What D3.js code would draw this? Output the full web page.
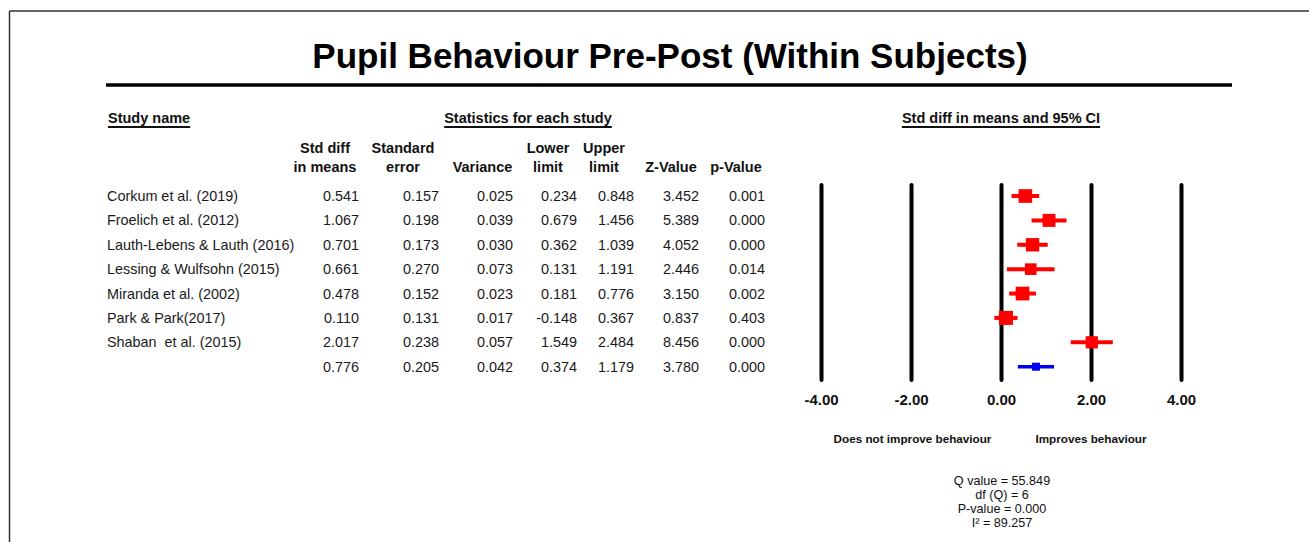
<!DOCTYPE html>
<html>
<head>
<meta charset="utf-8">
<script src="https://cdn.jsdelivr.net/npm/d3@7"></script>
<style>
  html, body { margin: 0; padding: 0; background: #fff; }
  svg { display: block; font-family: "Liberation Sans", Arial, sans-serif; }
  svg text { white-space: pre; }
</style>
</head>
<body>
<svg id="chart" width="1309" height="542"></svg>
<script>
// Per-study statistics
const studies = [
  "Corkum et al. (2019)",
  "Froelich et al. (2012)",
  "Lauth-Lebens & Lauth (2016)",
  "Lessing & Wulfsohn (2015)",
  "Miranda et al. (2002)",
  "Park & Park(2017)",
  "Shaban  et al. (2015)"
];
const stdDiff   = [0.541, 1.067, 0.701, 0.661, 0.478, 0.110, 2.017];
const stdError  = [0.157, 0.198, 0.173, 0.270, 0.152, 0.131, 0.238];
const variance  = [0.025, 0.039, 0.030, 0.073, 0.023, 0.017, 0.057];
const lowerLim  = [0.234, 0.679, 0.362, 0.131, 0.181, -0.148, 1.549];
const upperLim  = [0.848, 1.456, 1.039, 1.191, 0.776, 0.367, 2.484];
const zValue    = [3.452, 5.389, 4.052, 2.446, 3.150, 0.837, 8.456];
const pValue    = [0.001, 0.000, 0.000, 0.014, 0.002, 0.403, 0.000];

// Pooled (random effects) estimate
const pooled = [0.776, 0.205, 0.042, 0.374, 1.179, 3.780, 0.000];

// Heterogeneity
const qValue = 55.849, dfQ = 6, qP = 0.000, iSquared = 89.257;

// Axis ticks for the forest plot
const xTicks = [-4, -2, 0, 2, 4];

const colHeaders = [
  ["Std diff", "in means"],
  ["Standard", "error"],
  ["", "Variance"],
  ["Lower", "limit"],
  ["Upper", "limit"],
  ["", "Z-Value"],
  ["", "p-Value"]
];

const svg = d3.select("#chart");
const FONT = '"Liberation Sans", Arial, sans-serif';

// frame
svg.append("line").attr("x1", 9.5).attr("x2", 1309).attr("y1", 11).attr("y2", 11)
  .attr("stroke", "#333").attr("stroke-width", 1.5);
svg.append("line").attr("x1", 9.5).attr("x2", 9.5).attr("y1", 11).attr("y2", 542)
  .attr("stroke", "#333").attr("stroke-width", 1.5);

// title
svg.append("text").attr("x", 670).attr("y", 68).attr("text-anchor", "middle")
  .attr("font-size", 35).attr("font-weight", "bold").attr("fill", "#000")
  .text("Pupil Behaviour Pre-Post (Within Subjects)");
svg.append("line").attr("x1", 106).attr("x2", 1232).attr("y1", 85).attr("y2", 85)
  .attr("stroke", "#000").attr("stroke-width", 3.5);

// underlined section headers
function sectionHeader(txt, x, anchor) {
  const t = svg.append("text").attr("x", x).attr("y", 118).attr("dy", "0.35em")
    .attr("text-anchor", anchor).attr("font-size", 14.5).attr("font-weight", "bold")
    .attr("fill", "#111").text(txt);
  const w = t.node().getComputedTextLength();
  const x0 = anchor === "middle" ? x - w / 2 : x;
  svg.append("line").attr("x1", x0).attr("x2", x0 + w).attr("y1", 127).attr("y2", 127)
    .attr("stroke", "#111").attr("stroke-width", 2);
}
sectionHeader("Study name", 108, "start");
sectionHeader("Statistics for each study", 528, "middle");
sectionHeader("Std diff in means and 95% CI", 1001, "middle");

// column headers
const headerCenters = [325, 403, 482.5, 548, 604, 671, 736];
const colRight = [359, 439, 513, 577, 634, 699, 765];
colHeaders.forEach((h, i) => {
  [148, 167].forEach((yy, j) => {
    if (h[j]) {
      svg.append("text").attr("x", headerCenters[i]).attr("y", yy).attr("dy", "0.35em")
        .attr("text-anchor", "middle").attr("font-size", 14.5).attr("font-weight", "bold")
        .attr("fill", "#111").text(h[j]);
    }
  });
});

// rows
const nRows = studies.length + 1;
const y = d3.scalePoint().domain(d3.range(nRows)).range([196, 366.7]);

const rowData = studies.map((s, i) => ({
  name: s,
  vals: [stdDiff[i], stdError[i], variance[i], lowerLim[i], upperLim[i], zValue[i], pValue[i]]
}));
rowData.push({ name: "", vals: pooled });

const rows = svg.append("g").selectAll("g").data(rowData).join("g")
  .attr("transform", (d, i) => `translate(0,${y(i)})`);
rows.append("text").attr("x", 107).attr("dy", "0.35em").attr("font-size", 14.4)
  .attr("fill", "#1a1a1a").text(d => d.name);
rows.selectAll("text.v").data(d => d.vals).join("text").attr("class", "v")
  .attr("x", (v, j) => colRight[j]).attr("dy", "0.35em").attr("text-anchor", "end")
  .attr("font-size", 14.4).attr("fill", "#1a1a1a").text(v => v.toFixed(3));

// forest plot
const x = d3.scaleLinear().domain([-4, 4]).range([821, 1181]);
const axis = d3.axisBottom(x).tickValues(xTicks)
  .tickSizeInner(-(380 - 185)).tickSizeOuter(0).tickPadding(14.5)
  .tickFormat(d => d.toFixed(2));
const ax = svg.append("g").attr("transform", "translate(0,380)").call(axis);
ax.select(".domain").remove();
ax.selectAll(".tick line").attr("stroke", "#000").attr("stroke-width", 4)
  .attr("stroke-linecap", "round");
ax.selectAll(".tick text").attr("font-family", FONT).attr("font-size", 15)
  .attr("font-weight", "bold").attr("fill", "#111");

// square sizes follow random-effects weights
const w0 = stdError.map(s => 1 / (s * s));
const sumW = d3.sum(w0), sumW2 = d3.sum(w0, w => w * w);
const tau2 = Math.max(0, (qValue - dfQ) / (sumW - sumW2 / sumW));
const wRE = stdError.map(s => 1 / (s * s + tau2));
const size = d3.scaleLinear().domain([0, d3.max(wRE)]).range([0, 14]);

const marks = svg.append("g").selectAll("g").data(studies.map((s, i) => i)).join("g");
marks.append("line")
  .attr("x1", i => x(lowerLim[i])).attr("x2", i => x(upperLim[i]))
  .attr("y1", i => y(i)).attr("y2", i => y(i))
  .attr("stroke", "#f00").attr("stroke-width", 4);
marks.append("rect")
  .attr("x", i => x(stdDiff[i]) - size(wRE[i]) / 2)
  .attr("y", i => y(i) - size(wRE[i]) / 2)
  .attr("width", i => size(wRE[i])).attr("height", i => size(wRE[i]))
  .attr("fill", "#f00");

// pooled estimate
const py = y(studies.length);
svg.append("line").attr("x1", x(pooled[3])).attr("x2", x(pooled[4]))
  .attr("y1", py).attr("y2", py).attr("stroke", "#0000ee").attr("stroke-width", 3.5);
svg.append("rect").attr("x", x(pooled[0]) - 4).attr("y", py - 4)
  .attr("width", 8).attr("height", 8).attr("fill", "#0000ee");

// direction labels
svg.append("text").attr("x", 912.5).attr("y", 439).attr("dy", "0.35em")
  .attr("text-anchor", "middle").attr("font-size", 11.7).attr("font-weight", "bold")
  .attr("fill", "#111").text("Does not improve behaviour");
svg.append("text").attr("x", 1091).attr("y", 439).attr("dy", "0.35em")
  .attr("text-anchor", "middle").attr("font-size", 11.7).attr("font-weight", "bold")
  .attr("fill", "#111").text("Improves behaviour");

// heterogeneity block
const hetLines = [
  `Q value = ${qValue.toFixed(3)}`,
  `df (Q) = ${dfQ}`,
  `P-value = ${qP.toFixed(3)}`,
  `I\u00B2 = ${iSquared.toFixed(3)}`
];
svg.append("g").selectAll("text").data(hetLines).join("text")
  .attr("x", 1002).attr("y", (d, i) => 481 + i * 14).attr("dy", "0.35em")
  .attr("text-anchor", "middle").attr("font-size", 12.6).attr("fill", "#111")
  .text(d => d);
</script>
</body>
</html>
